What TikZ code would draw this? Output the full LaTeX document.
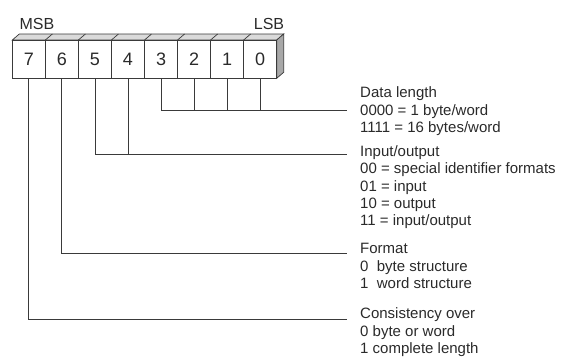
\documentclass[tikz,border=0pt]{standalone}
\usepackage{fontspec}
\setmainfont{Liberation Sans}
\begin{document}
\begin{tikzpicture}[x=1pt,y=-1pt,
  bitbox/.style={draw=linec, line width=0.7pt, minimum width=33.05pt, minimum height=38.3pt,
    inner sep=0pt, font=\fontsize{18}{18}\selectfont, text=textc},
  conn/.style={draw=linec, line width=0.8pt},
  desc/.style={anchor=base west, inner sep=0pt, align=left,
    font=\fontsize{15}{17.4}\selectfont, text=textc},
  endlabel/.style={anchor=base, inner sep=0pt, font=\fontsize{16}{16}\selectfont, text=textc}]
\definecolor{linec}{HTML}{3A3A3A}
\definecolor{textc}{HTML}{2A2A2A}
\definecolor{topc}{HTML}{DADADA}
\definecolor{sidec}{HTML}{A8A8A8}
\useasboundingbox (0,0) rectangle (564,360);
% 3D top and side faces
\filldraw[fill=topc, draw=linec, line width=0.7pt] (12.3,40) -- (19.3,34) -- (283.7,34) -- (276.7,40) -- cycle;
\filldraw[fill=sidec, draw=linec, line width=0.7pt] (276.7,40) -- (283.7,34) -- (283.7,72.3) -- (276.7,78.3) -- cycle;
\foreach \i in {1,...,7}{
  \draw[linec, line width=0.7pt] ({12.3+33.05*\i},40) -- ({19.3+33.05*\i},34);
}
% bit boxes
\foreach \b [count=\k from 0] in {7,6,5,4,3,2,1,0}{
  \node[bitbox] (b\b) at ({12.3+33.05*(\k+0.5)},59.15) {\b};
}
% labels
\node[endlabel] (msb) at (37,29.5) {MSB};
\node[endlabel] (lsb) at (269,29.5) {LSB};
% descriptions (anchor = baseline of last line)
\node[desc] (t1) at (360,132.4) {Data length\\0000 = 1 byte/word\\1111 = 16 bytes/word};
\node[desc] (t2) at (360,225.8) {Input/output\\00 = special identifier formats\\01 = input\\10 = output\\11 = input/output};
\node[desc] (t3) at (360,288.6) {Format\\0\ \ byte structure\\1\ \ word structure};
\node[desc] (t4) at (360,353.4) {Consistency over\\0 byte or word\\1 complete length};
% line ends
\coordinate (e1) at (347,110);
\coordinate (e2) at (347,154.5);
\coordinate (e3) at (347,253.3);
\coordinate (e4) at (347,319);
% connectors
\draw[conn] (b3.south) |- (e1);
\draw[conn] (b2.south) -- (b2.south |- e1);
\draw[conn] (b1.south) -- (b1.south |- e1);
\draw[conn] (b0.south) -- (b0.south |- e1);
\draw[conn] (b5.south) |- (e2);
\draw[conn] (b4.south) -- (b4.south |- e2);
\draw[conn] (b6.south) |- (e3);
\draw[conn] (b7.south) |- (e4);
\end{tikzpicture}
\end{document}
